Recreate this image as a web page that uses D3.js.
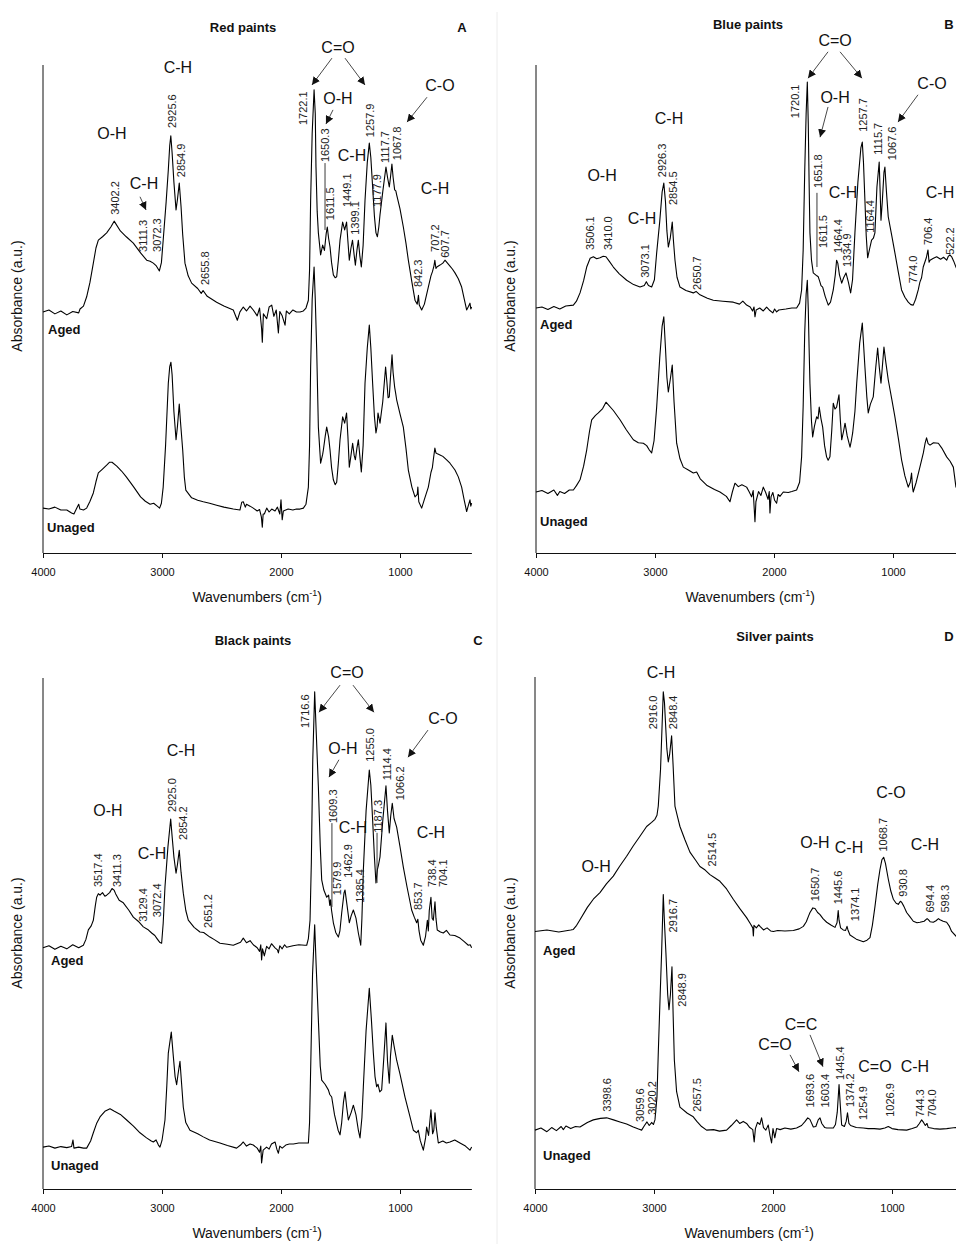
<!DOCTYPE html>
<html>
<head>
<meta charset="utf-8" />
<title>FTIR spectra of paints</title>
<script src="https://d3js.org/d3.v7.min.js"></script>
<style>
  body { margin: 0; background: #fff; font-family: Arial, "Liberation Sans", sans-serif; }
  .axis path, .axis line { stroke: #111; }
  .axis text { font-size: 11px; fill: #111; font-family: Arial, "Liberation Sans", sans-serif; }
  .spec { fill: none; stroke: #000; stroke-width: 1.1; stroke-linejoin: round; }
  .peak { font-size: 11px; fill: #222; }
  .grp { font-size: 16px; fill: #111; }
  .ttl { font-size: 13px; font-weight: bold; fill: #111; }
  .tag { font-size: 13px; font-weight: bold; fill: #111; }
  .lbl { font-size: 14px; fill: #111; }
</style>
</head>
<body>
<div id="chart"></div>
<script>
// x ticks (wavenumber, cm-1)
var wnTicks = [4000, 3000, 2000, 1000];

// ---- Red paints (A) ----
var redAged = [[4000,49.4],[3950,49.8],[3900,49.0],[3850,49.6],[3800,48.8],[3750,49.5],[3700,49.2],[3689,50.0],[3660,50.6],[3633,52.5],[3605,55.5],[3577,59.4],[3555,62.5],[3535,64.1],[3500,64.8],[3465,65.6],[3430,66.8],[3402,68.0],[3350,66.0],[3300,64.8],[3241,63.5],[3180,61.5],[3129,60.0],[3100,59.8],[3073,59.4],[3050,58.9],[3022,57.8],[3005,59.5],[2990,64.1],[2965,72.0],[2947,78.5],[2935,83.5],[2926,85.5],[2915,82],[2900,76],[2882,70.3],[2870,72.5],[2855,75.8],[2840,71],[2826,65.2],[2807,59.4],[2780,56.8],[2751,55.3],[2700,54.2],[2670,53.2],[2655,53.8],[2620,52.6],[2541,51.4],[2480,50.6],[2401,49.8],[2367,47.7],[2345,49.4],[2317,50.4],[2290,49.6],[2260,50.6],[2233,49.8],[2200,48.6],[2180,50.2],[2163,46.0],[2157,43.2],[2148,49.0],[2120,48.0],[2100,50.4],[2078,50.8],[2060,48.5],[2040,49.8],[2022,45.1],[2010,49.5],[1990,48.6],[1966,46.7],[1955,49.6],[1930,49.0],[1900,49.8],[1870,49.4],[1840,49.4],[1812,49.6],[1790,50.2],[1770,51.8],[1760,58],[1751,72.3],[1738,86],[1722,94.9],[1712,90],[1706,79.1],[1696,70],[1686,65.6],[1667,61.1],[1650,63.1],[1635,62.0],[1620,65.5],[1611,66.8],[1600,64.5],[1588,62.7],[1575,59.5],[1560,57.0],[1545,56.4],[1532,56.6],[1518,60],[1504,64.1],[1482,67.8],[1465,66.2],[1449,67.8],[1438,64],[1426,60.0],[1412,62.5],[1399,64.1],[1385,61],[1375,59.0],[1362,62],[1350,64.1],[1338,61],[1325,58.6],[1310,63],[1294,72.3],[1275,80],[1258,84.0],[1245,81],[1230,75.0],[1215,69],[1202,65.6],[1190,64.8],[1178,66.8],[1168,69.3],[1145,74],[1118,79.1],[1105,77],[1090,75.0],[1080,77],[1068,79.7],[1058,77],[1045,74.4],[1035,74.2],[1028,73.4],[1000,70.5],[972,66.8],[950,63.5],[930,60.0],[900,55.5],[874,51.8],[855,51.0],[845,52.8],[838,50.8],[818,49.8],[795,51.0],[762,54.5],[740,56.8],[728,57.6],[715,58.8],[707,60.0],[698,58.3],[690,58.6],[664,59.0],[640,59.4],[622,60.0],[608,59.6],[580,58.8],[560,58.2],[538,57.4],[510,56.2],[482,54.5],[460,52],[440,49.8],[425,50.5],[412,51.2],[405,50.0],[398,50.4]];
var redUnaged = [[4000,9.2],[3950,9.0],[3900,9.4],[3850,8.8],[3800,8.8],[3760,8.2],[3740,8.0],[3720,9.0],[3700,10.0],[3690,9.0],[3660,8.8],[3633,9.2],[3605,10.6],[3577,12.3],[3555,14.6],[3535,16.4],[3500,17.2],[3465,18.0],[3440,18.6],[3420,18.6],[3380,17.8],[3340,16.8],[3300,15.6],[3240,13.6],[3180,11.5],[3140,10.6],[3100,10.0],[3070,10.2],[3040,9.6],[3020,9.2],[3005,10.2],[2990,13.5],[2970,22],[2947,34.8],[2935,38.2],[2925,39.1],[2915,36.5],[2900,29],[2882,23.2],[2870,26],[2855,30.5],[2845,27],[2826,21.1],[2812,15.5],[2800,12.9],[2751,11.3],[2700,10.8],[2653,10.5],[2600,10.2],[2541,9.8],[2480,9.4],[2401,9.0],[2345,8.8],[2330,10.4],[2317,10.5],[2300,9.4],[2290,10.0],[2260,9.6],[2233,9.2],[2200,8.6],[2180,8.9],[2165,7.4],[2157,5.3],[2150,8.0],[2140,8.0],[2120,9.2],[2100,8.4],[2078,9.0],[2050,8.6],[2030,9.4],[2010,8.0],[2000,10.9],[1990,6.8],[1980,8.6],[1960,8.8],[1940,9.0],[1900,8.8],[1870,9.0],[1840,9.0],[1812,9.2],[1790,10.0],[1770,13.5],[1760,22],[1751,38.1],[1738,52],[1722,58.6],[1712,52],[1700,41.6],[1686,25.8],[1667,18.4],[1650,20.2],[1644,21.1],[1628,24],[1616,25.8],[1600,23.8],[1588,21.1],[1575,17.5],[1560,15.0],[1545,14.0],[1532,14.5],[1518,18.5],[1504,23.2],[1482,27.9],[1465,26.6],[1449,28.7],[1438,24],[1426,17.6],[1412,20],[1398,22.5],[1385,20],[1375,19.1],[1362,21.5],[1350,23.2],[1338,20],[1325,16.6],[1310,22],[1294,34.8],[1275,42],[1258,46.7],[1245,42],[1230,34.8],[1215,28],[1202,24.6],[1192,26],[1185,28.7],[1175,27.5],[1168,26.6],[1145,31],[1121,38.1],[1110,35],[1100,31.8],[1090,32.0],[1080,36],[1067,40.6],[1058,37],[1045,34.0],[1035,32.5],[1028,31.4],[1000,28.5],[972,25.8],[950,21.5],[930,17.0],[900,13.5],[874,11.5],[855,12.0],[850,13.5],[842,10.5],[818,9.2],[795,11.0],[762,13.5],[740,16.5],[728,17.5],[720,19.1],[707,21.5],[698,20.5],[690,20.4],[664,20.1],[640,19.8],[608,19.1],[580,18.4],[538,17.0],[510,15.6],[482,13.5],[460,10.8],[440,8.5],[425,9.8],[412,10.9],[405,9.6],[398,10.2]];
var redPeaks = [[3402.2,3395,69.3],[3111.3,3160,61.7],[3072.3,3042,61.7],[2925.6,2916,87.1],[2854.9,2840,77.0],[2655.8,2639,54.9],[1722.1,1815,87.7],[1650.3,1630,80.1],[1611.5,1588,68.2],[1449.1,1445,70.9],[1399.1,1378,65.2],[1257.9,1252,85.2],[1177.9,1193,70.9],[1117.7,1126,79.9],[1067.8,1025,80.5],[842.3,849,54.5],[707.2,706,61.7],[607.7,622,60.5]];
var redGroups = [["C=O",1521,103.7],["C-H",2866,99.6],["O-H",3420,86.1],["C-H",3151,75.8],["O-H",1521,93.2],["C-H",1403,81.6],["C-O",664,95.9],["C-H",706,74.8]];
var redArrows = [[1572,101.4,1740,95.9],[1462,101.4,1294,95.9],[3185,73.0,3134,70.3],[1563,90.8,1622,87.9],[773,93.4,941,88.3]];
var redLeaders = [[1630,79.9,66.2]];

// ---- Blue paints (B) ----
var blueAged = [[4000,50.2],[3950,50.4],[3900,49.9],[3850,50.5],[3800,50.0],[3750,50.6],[3686,50.8],[3660,51.6],[3630,53.3],[3600,55.8],[3574,58.6],[3545,60.4],[3518,60.7],[3490,60.3],[3462,60.5],[3435,60.8],[3412,60.7],[3385,59.8],[3350,58.6],[3300,57.2],[3238,55.9],[3180,55.0],[3126,54.5],[3090,54.8],[3073,55.6],[3055,54.8],[3028,54.5],[3005,56],[2986,61.5],[2960,68],[2940,74],[2926,75.8],[2912,72],[2900,66],[2888,62.7],[2872,64.5],[2855,67.8],[2845,64],[2832,60.0],[2815,56.5],[2790,54.5],[2740,53.8],[2678,53.3],[2655,53.6],[2622,52.9],[2560,52.2],[2510,51.8],[2430,51.6],[2342,51.4],[2290,51.0],[2262,51.6],[2230,50.8],[2200,50.4],[2180,49.6],[2168,50.4],[2160,48.4],[2150,49.8],[2120,50.2],[2090,49.6],[2062,50.4],[2040,49.8],[2010,49.2],[1995,50.0],[1978,49.4],[1960,49.8],[1900,50.0],[1850,50.2],[1810,50.2],[1785,51.2],[1768,53.9],[1755,62],[1742,78],[1730,90],[1720,96.5],[1712,88],[1705,76],[1698,65.6],[1685,60],[1670,57.4],[1650,57.0],[1640,56.8],[1628,56.6],[1615,55.6],[1605,54.8],[1591,54.5],[1570,52.6],[1544,50.8],[1525,51.4],[1502,53.9],[1485,57],[1474,60.0],[1464,59.4],[1450,57],[1431,55.3],[1415,56.4],[1395,57.4],[1375,55.5],[1356,53.3],[1340,56],[1320,65.6],[1295,76],[1270,83],[1258,84.2],[1248,80],[1236,72.3],[1225,65],[1213,60.5],[1195,62.5],[1180,64.1],[1165,64.5],[1152,65.6],[1135,75],[1116,80.1],[1108,74],[1101,68.2],[1090,72],[1076,78],[1068,79.1],[1055,74],[1040,68.9],[1010,65],[984,61.5],[955,57.5],[928,53.9],[900,52.4],[872,51.4],[850,50.9],[830,50.8],[810,52],[788,53.9],[774,55.5],[760,56.4],[746,58.6],[720,60.5],[706,62.1],[697,59.6],[689,60.0],[660,60.4],[633,60.7],[600,60.2],[575,60.6],[549,60.0],[535,60.8],[522,61.1],[507,60.7],[490,59.8],[471,58.6],[440,57.0],[400,53.9]];
var blueUnaged = [[4000,12.5],[3950,12.8],[3900,12.2],[3850,12.9],[3820,11.8],[3800,12.6],[3760,12.2],[3720,12.9],[3686,12.9],[3660,13.8],[3630,15.0],[3600,17.8],[3574,21.1],[3550,25],[3532,27.3],[3500,28.2],[3476,28.7],[3440,29.6],[3412,30.9],[3350,29.2],[3294,27.3],[3240,25.2],[3182,23.2],[3140,22.6],[3098,22.5],[3070,22.0],[3050,21.2],[3028,20.5],[3008,23],[2986,29.9],[2960,40],[2940,46.5],[2926,48.4],[2912,42],[2900,36],[2888,33.0],[2872,35.5],[2855,38.5],[2840,31],[2818,22.5],[2790,19.3],[2762,17.6],[2720,17.0],[2678,16.4],[2650,16.6],[2620,15.2],[2566,13.9],[2500,13.0],[2454,12.5],[2400,11.6],[2370,10.5],[2350,12.5],[2328,14.3],[2300,13.6],[2270,14.0],[2230,13.5],[2210,12.6],[2188,11.5],[2175,12.8],[2166,9.0],[2160,6.4],[2152,10.5],[2130,12.6],[2110,11.8],[2090,13.5],[2070,12.4],[2050,11.0],[2040,12.6],[2034,8.2],[2025,11.5],[2010,12.4],[1995,10.8],[1978,10.2],[1965,12.0],[1950,11.6],[1922,12.5],[1880,12.4],[1850,12.6],[1810,12.9],[1785,14.5],[1768,19.7],[1755,30],[1742,45],[1730,53],[1720,55.9],[1712,50],[1705,42],[1698,34.8],[1685,27],[1675,23.8],[1660,26],[1642,27.9],[1630,27.5],[1620,29.9],[1605,27.5],[1591,25.8],[1575,22],[1558,19.7],[1545,19.0],[1530,19.7],[1515,25],[1502,30.7],[1488,29.5],[1474,29.9],[1454,32.4],[1442,27],[1431,23.2],[1415,25],[1403,26.6],[1385,24],[1361,21.7],[1350,23],[1339,24.6],[1320,29],[1305,34.8],[1280,43],[1258,47.1],[1248,43],[1236,38.1],[1220,32],[1208,28.7],[1190,30.5],[1166,32.0],[1145,38],[1129,42.0],[1115,38],[1101,34.8],[1090,38],[1076,42.2],[1060,39],[1040,35.5],[1010,31.5],[984,27.9],[955,23.5],[928,19.1],[900,15.8],[872,13.5],[855,14.5],[844,16.4],[836,13.5],[830,12.5],[805,14.5],[774,17.6],[745,20.5],[730,22.5],[718,23.6],[705,22.4],[689,22.1],[660,22.6],[619,22.5],[590,21.5],[549,19.7],[520,18.8],[493,17.6],[471,13.5],[430,12.9],[400,11.0]];
var bluePeaks = [[3506.1,3546,62.1],[3410.0,3395,62.1],[3073.1,3084,56.4],[2926.3,2941,77.0],[2854.5,2849,71.3],[2650.7,2647,53.9],[1720.1,1824,89.1],[1651.8,1630,74.8],[1611.5,1588,62.5],[1464.4,1462,61.5],[1334.9,1387,58.6],[1257.7,1252,86.3],[1164.4,1193,65.6],[1115.7,1126,81.6],[1067.6,1009,80.5],[774.0,832,55.3],[706.4,706,63.1],[522.2,521,61.1]];
var blueGroups = [["C=O",1487,105.1],["O-H",1487,93.4],["C-O",672,96.3],["C-H",2882,89.1],["O-H",3445,77.5],["C-H",3109,68.6],["C-H",1420,74.0],["C-H",605,74.0]];
var blueArrows = [[1546,102.7,1714,97.3],[1445,102.7,1261,97.3],[1546,91.4,1613,85.2],[790,93.9,958,88.3]];
var blueLeaders = [[1639,73.8,58.6]];

// ---- Black paints (C) ----
var blackAged = [[4000,47.2],[3950,47.6],[3900,46.9],[3850,47.5],[3800,47.0],[3750,47.8],[3700,47.2],[3661,47.7],[3640,48.8],[3619,50.7],[3595,51.5],[3577,52.6],[3560,55.5],[3549,57.1],[3535,57.8],[3521,57.5],[3500,58.0],[3480,57.3],[3465,57.5],[3440,58.0],[3420,58.8],[3403,58.5],[3390,57.8],[3360,56.5],[3325,56.0],[3280,54.6],[3241,53.2],[3200,52.4],[3157,51.3],[3120,50.8],[3087,50.1],[3060,49.6],[3045,49.1],[3020,48.3],[3003,48.1],[2990,52],[2975,59.1],[2950,67],[2927,72.4],[2915,69],[2900,65],[2882,61.8],[2870,63.5],[2855,66.3],[2840,62],[2821,57.9],[2800,54.5],[2779,52.6],[2730,51.2],[2681,50.3],[2650,50.2],[2597,49.3],[2560,48.8],[2513,48.1],[2450,47.9],[2401,47.7],[2340,48.3],[2317,49.1],[2290,48.2],[2260,48.6],[2233,47.8],[2200,47.2],[2180,46.5],[2170,47.8],[2163,44.8],[2155,47.0],[2140,45.6],[2121,47.5],[2100,47.0],[2080,48.0],[2050,47.2],[2030,46.8],[2022,46.2],[2010,47.6],[1990,47.0],[1970,47.8],[1952,47.3],[1900,47.6],[1850,47.8],[1800,47.7],[1784,47.7],[1770,49.0],[1756,52.6],[1745,64],[1733,84],[1717,97.3],[1705,90],[1686,78.7],[1670,67],[1658,60.5],[1640,58.5],[1616,57.1],[1600,57.5],[1590,55.5],[1584,56.6],[1575,54.5],[1560,52.1],[1540,50.2],[1518,49.3],[1505,50.5],[1490,54.0],[1470,58.0],[1462,58.5],[1445,55.5],[1426,52.1],[1410,53.5],[1392,54.6],[1370,53.0],[1350,50.1],[1330,47.7],[1320,53],[1308,62.4],[1285,74],[1258,82.0],[1245,79],[1230,72.2],[1215,65],[1202,59.9],[1190,62.5],[1180,63.5],[1168,65.0],[1145,72],[1118,78.9],[1105,74],[1090,69.7],[1078,73],[1065,75.5],[1050,72.5],[1028,70.8],[1000,67],[972,63.0],[940,59],[902,54.6],[880,53.2],[860,52.1],[850,52.8],[840,50.5],[826,48.7],[804,47.7],[785,49.5],[770,52.6],[762,50.5],[754,54.5],[740,57.1],[730,53],[720,52.6],[706,56.2],[698,53],[687,50.7],[660,50.3],[636,50.1],[610,50.6],[580,49.7],[540,49.6],[496,49.1],[460,48.4],[426,47.7],[410,47.8],[398,47.2]];
var blackUnaged = [[4000,8.2],[3950,8.4],[3900,8.0],[3850,8.3],[3800,8.1],[3760,8.3],[3748,9.6],[3740,8.0],[3700,8.2],[3660,8.0],[3633,8.0],[3600,9.4],[3577,11.0],[3550,12.8],[3521,14.1],[3480,15.2],[3437,15.7],[3400,15.2],[3350,14.6],[3297,13.5],[3240,12.3],[3185,11.0],[3130,10.0],[3090,9.4],[3073,9.2],[3050,9.6],[3030,8.6],[3017,8.2],[3000,9.5],[2975,13.5],[2960,20],[2947,26.6],[2922,30.7],[2905,26],[2890,22],[2877,20.4],[2865,22.5],[2849,25.0],[2835,20.5],[2821,16.0],[2800,13.0],[2765,11.5],[2700,10.8],[2653,10.2],[2600,9.6],[2513,9.0],[2450,8.5],[2373,8.0],[2340,8.6],[2317,9.2],[2290,8.4],[2260,8.8],[2233,8.6],[2200,8.0],[2180,7.2],[2170,8.4],[2163,5.1],[2150,7.6],[2121,8.2],[2100,7.8],[2080,8.8],[2050,9.2],[2035,7.8],[2022,7.0],[2010,8.4],[1990,8.0],[1960,8.6],[1930,8.8],[1896,8.8],[1850,9.0],[1800,9.0],[1770,9.0],[1760,13],[1748,26.6],[1735,42],[1717,51.7],[1705,44],[1686,33.1],[1670,24],[1658,21.3],[1630,20.5],[1602,19.4],[1590,18.5],[1574,18.0],[1550,14.5],[1520,11.5],[1504,10.6],[1490,13],[1475,17],[1462,19.0],[1448,16],[1434,13.5],[1410,15],[1392,16.4],[1370,14.5],[1350,11.5],[1336,10.0],[1320,14],[1308,20.0],[1285,31],[1258,39.3],[1240,33],[1224,26.6],[1210,22],[1196,20.0],[1185,20.5],[1170,19.0],[1154,19.4],[1135,26],[1118,32.5],[1105,25],[1090,20.7],[1080,26],[1065,30.1],[1050,28],[1028,25.2],[1000,22.5],[958,18.0],[920,14.5],[888,11.5],[860,11.0],[846,11.5],[830,9.5],[804,7.6],[785,10],[776,12.1],[760,10.5],[750,13],[740,15.5],[726,10.8],[716,11.5],[706,14.9],[695,12],[678,9.0],[640,9.4],[610,9.0],[580,9.2],[540,9.6],[496,9.0],[450,8.4],[412,7.6],[398,8.2]];
var blackPeaks = [[3517.4,3538,59.1],[3411.3,3378,59.1],[3129.4,3160,52.3],[3072.4,3042,53.2],[2925.0,2916,73.8],[2854.2,2824,68.3],[2651.2,2614,51.1],[1716.6,1798,90.2],[1609.3,1563,71.6],[1579.9,1530,57.5],[1462.9,1437,60.9],[1385.4,1336,56.0],[1255.0,1252,83.6],[1187.3,1185,69.7],[1114.4,1109,80.0],[1066.2,1000,76.1],[853.7,849,54.6],[738.4,731,59.1],[704.1,639,59.1]];
var blackGroups = [["C=O",1445,101.2],["C-O",639,92.2],["O-H",1479,86.3],["C-H",2840,85.9],["O-H",3454,74.2],["C-H",3084,65.8],["C-H",1395,70.8],["C-H",740,69.9]];
var blackArrows = [[1504,98.6,1681,93.3],[1395,98.6,1219,93.3],[765,89.8,933,84.5],[1513,84.0,1597,80.6]];
var blackLeaders = [[1572,71.6,55.2],[1193,69.7,59.9]];

// ---- Silver paints (D) ----
var silverAged = [[4000,50.3],[3900,50.6],[3800,50.2],[3700,50.6],[3678,50.7],[3650,51.5],[3622,52.6],[3560,55.0],[3510,56.6],[3454,57.9],[3400,59.6],[3342,61.1],[3290,63.0],[3230,65.0],[3175,67.0],[3118,68.9],[3062,70.8],[3020,71.6],[2992,72.2],[2975,73.0],[2964,74.8],[2945,82],[2936,87.9],[2922,97.1],[2912,95],[2905,91.8],[2892,86],[2880,83.4],[2868,85],[2852,88.5],[2840,83],[2824,74.8],[2800,72.5],[2782,70.8],[2740,68.2],[2698,65.8],[2650,64.2],[2614,63.0],[2570,62.3],[2530,61.4],[2490,60.8],[2446,60.1],[2390,58.6],[2334,56.6],[2280,54.8],[2222,53.0],[2190,51.8],[2170,51.0],[2165,49.4],[2160,51.5],[2140,51.0],[2120,51.6],[2109,51.3],[2080,50.6],[2050,51.0],[2020,50.4],[1997,50.3],[1960,50.5],[1900,50.4],[1829,50.5],[1780,50.8],[1745,51.3],[1720,52.2],[1700,53.4],[1689,54.0],[1665,54.9],[1647,54.8],[1625,54.0],[1605,53.6],[1580,52.8],[1549,52.1],[1510,51.5],[1479,51.1],[1462,52],[1452,54.4],[1445,52.5],[1432,51.0],[1410,50.6],[1390,50.5],[1378,51.3],[1370,50.6],[1353,49.6],[1300,48.8],[1241,48.3],[1210,48.6],[1185,49.1],[1165,51.5],[1143,55.2],[1120,59.5],[1101,62.4],[1085,64.3],[1070,64.8],[1055,63.6],[1031,60.5],[1010,58.2],[989,56.6],[965,55.8],[947,55.6],[930,56.2],[919,56.0],[900,55.2],[877,54.0],[850,53.2],[821,52.3],[790,52.0],[765,52.1],[730,52.3],[705,52.8],[695,52.6],[680,52.2],[653,52.1],[630,52.4],[610,52.8],[597,52.6],[570,52.3],[541,52.1],[520,51.4],[499,50.3],[463,49.4],[430,48.7],[400,47.7]];
var silverUnaged = [[4000,11.5],[3950,11.9],[3900,11.2],[3860,12.0],[3820,11.4],[3780,12.2],[3762,11.6],[3740,12.3],[3700,11.8],[3660,12.2],[3622,12.1],[3560,13.0],[3510,13.5],[3450,13.8],[3398,13.9],[3340,13.5],[3286,13.1],[3230,12.7],[3174,12.1],[3130,11.7],[3104,11.5],[3080,12.4],[3059,13.1],[3040,12.4],[3025,12.8],[3020,13.0],[3005,12.6],[2992,13.5],[2975,18],[2964,26.6],[2948,38],[2936,46.2],[2922,57.5],[2912,52],[2900,46.2],[2885,38],[2874,35.0],[2862,38],[2849,43.4],[2838,33],[2829,25.2],[2810,19],[2782,16.0],[2720,14.8],[2670,14.1],[2640,13.2],[2600,12.2],[2558,11.5],[2500,11.6],[2450,11.3],[2390,11.5],[2350,12.4],[2306,13.5],[2280,12.8],[2250,13.2],[2222,12.8],[2195,12.0],[2170,11.6],[2158,9.2],[2148,11.8],[2130,13.0],[2110,12.6],[2096,13.9],[2080,12.0],[2060,11.5],[2040,12.5],[2025,10.4],[2012,9.0],[2000,11.8],[1985,10.0],[1970,11.8],[1940,11.6],[1900,11.9],[1850,11.7],[1802,11.9],[1760,12.4],[1730,13.2],[1708,13.9],[1690,13.6],[1661,12.1],[1640,12.2],[1620,13.5],[1605,13.9],[1590,12.8],[1565,12.0],[1549,11.9],[1510,11.9],[1493,11.9],[1475,12.6],[1460,15],[1445,20.4],[1435,16.5],[1423,12.5],[1400,12.2],[1385,13.2],[1374,14.9],[1362,12.8],[1348,12.4],[1300,12.0],[1241,11.9],[1200,11.8],[1150,11.8],[1101,11.7],[1060,11.9],[1031,12.2],[1000,11.8],[950,11.6],[877,11.5],[830,11.8],[793,12.1],[770,12.8],[751,13.5],[735,13.0],[720,12.4],[706,12.8],[695,12.0],[650,11.8],[597,11.7],[540,11.8],[500,11.9],[463,12.0],[430,11.9],[400,11.9]];
var silverPeaks = [[2916.0,3008,89.8],[2848.4,2840,89.8],[2514.5,2513,63.0],[1650.7,1647,56.2],[1445.6,1454,55.6],[1374.1,1311,52.3],[1068.7,1076,65.9],[930.8,908,57.1],[694.4,681,54.0],[598.3,555,54.0],[2916.7,2840,50.1],[2848.9,2765,35.6],[3398.6,3395,15.1],[3059.6,3118,13.1],[3020.2,3017,14.5],[2657.5,2639,15.1],[1693.6,1689,15.9],[1603.4,1563,15.9],[1445.4,1437,21.3],[1374.2,1353,16.0],[1254.9,1244,13.5],[1026.9,1017,14.1],[744.3,765,14.1],[704.0,664,14.1]];
var silverGroups = [["C-H",2941,101.0],["O-H",3487,63.0],["C-O",1009,77.5],["O-H",1647,67.7],["C-H",1361,66.7],["C-H",723,67.3],["C=C",1765,32.1],["C=O",1983,28.2],["C=O",1143,23.9],["C-H",807,23.9]];
var silverArrows = [[1857,26.2,1782,22.9],[1689,30.1,1580,23.9]];
var silverLeaders = [];

// panel layout (pixels)
var panels = [
  {title:"Red paints", letter:"A", aged:redAged, unaged:redUnaged, peaks:redPeaks, groups:redGroups, arrows:redArrows, leaders:redLeaders,
   left:43, top:65, bottom:553, titleX:243, titleY:32, letterX:462, agedXY:[48,334], unagedXY:[47,532], yTitleX:22, yTitleY:296},
  {title:"Blue paints", letter:"B", aged:blueAged, unaged:blueUnaged, peaks:bluePeaks, groups:blueGroups, arrows:blueArrows, leaders:blueLeaders,
   left:536, top:65, bottom:553, titleX:748, titleY:29, letterX:949, agedXY:[540,329], unagedXY:[540,526], yTitleX:515, yTitleY:296},
  {title:"Black paints", letter:"C", aged:blackAged, unaged:blackUnaged, peaks:blackPeaks, groups:blackGroups, arrows:blackArrows, leaders:blackLeaders,
   left:43, top:678, bottom:1189, titleX:253, titleY:645, letterX:478, agedXY:[51,965], unagedXY:[51,1170], yTitleX:22, yTitleY:933},
  {title:"Silver paints", letter:"D", aged:silverAged, unaged:silverUnaged, peaks:silverPeaks, groups:silverGroups, arrows:silverArrows, leaders:silverLeaders,
   left:535, top:677, bottom:1189, titleX:775, titleY:641, letterX:949, agedXY:[543,955], unagedXY:[543,1160], yTitleX:515, yTitleY:933}
];

var W = 956, H = 1244;
var pxPerWn = 0.119;

var svg = d3.select("#chart").append("svg")
    .attr("width", W).attr("height", H)
    .style("background", "#fff");

svg.append("defs").append("marker")
    .attr("id", "arr")
    .attr("viewBox", "0 0 10 10")
    .attr("refX", 10).attr("refY", 5)
    .attr("markerWidth", 8).attr("markerHeight", 8)
    .attr("markerUnits", "userSpaceOnUse")
    .attr("orient", "auto")
  .append("path")
    .attr("d", "M0,0L10,5L0,10z")
    .attr("fill", "#111");

// faint frame edge of the right-hand panels
svg.append("line")
    .attr("x1", 497).attr("x2", 497).attr("y1", 12).attr("y2", H)
    .attr("stroke", "#ececec").attr("stroke-width", 1);

var fmt = d3.format(".1f");

panels.forEach(function (p) {
    var x = d3.scaleLinear().domain([4000, 400]).range([p.left, p.left + 3600 * pxPerWn]);
    var y = d3.scaleLinear().domain([0, 100]).range([p.bottom, p.top]);
    var g = svg.append("g");

    // y axis: plain line, no ticks
    g.append("line")
        .attr("x1", p.left).attr("x2", p.left)
        .attr("y1", p.top).attr("y2", p.bottom)
        .attr("stroke", "#111").attr("stroke-width", 1);

    var xAxis = d3.axisBottom(x)
        .tickValues(wnTicks)
        .tickSize(5)
        .tickSizeOuter(0)
        .tickPadding(10)
        .tickFormat(d3.format("d"));

    g.append("g")
        .attr("class", "axis")
        .attr("transform", "translate(0," + p.bottom + ")")
        .call(xAxis);

    var line = d3.line()
        .x(function (d) { return x(d[0]); })
        .y(function (d) { return y(d[1]); });

    g.append("path").attr("class", "spec").attr("d", line(p.aged));
    g.append("path").attr("class", "spec").attr("d", line(p.unaged));

    // titles
    g.append("text").attr("class", "ttl")
        .attr("x", p.titleX).attr("y", p.titleY)
        .attr("text-anchor", "middle").text(p.title);
    g.append("text").attr("class", "ttl")
        .attr("x", p.letterX).attr("y", p.titleY)
        .attr("text-anchor", "middle").text(p.letter);

    g.append("text").attr("class", "tag")
        .attr("x", p.agedXY[0]).attr("y", p.agedXY[1]).text("Aged");
    g.append("text").attr("class", "tag")
        .attr("x", p.unagedXY[0]).attr("y", p.unagedXY[1]).text("Unaged");

    // axis titles
    var xt = g.append("text").attr("class", "lbl")
        .attr("x", (x.range()[0] + x.range()[1]) / 2)
        .attr("y", p.bottom + 49)
        .attr("text-anchor", "middle");
    xt.append("tspan").text("Wavenumbers (cm");
    xt.append("tspan").attr("font-size", "9px").attr("dy", "-6").text("-1");
    xt.append("tspan").attr("dy", "6").text(")");

    g.append("text").attr("class", "lbl")
        .attr("transform", "translate(" + p.yTitleX + "," + p.yTitleY + ") rotate(-90)")
        .attr("text-anchor", "middle")
        .text("Absorbance (a.u.)");

    // leader lines
    g.selectAll(".leader").data(p.leaders).enter().append("line")
        .attr("x1", function (d) { return x(d[0]); })
        .attr("x2", function (d) { return x(d[0]); })
        .attr("y1", function (d) { return y(d[1]); })
        .attr("y2", function (d) { return y(d[2]); })
        .attr("stroke", "#222").attr("stroke-width", 0.9);

    // peak labels, rotated
    g.selectAll(".peak").data(p.peaks).enter().append("text")
        .attr("class", "peak")
        .attr("transform", function (d) { return "translate(" + x(d[1]) + "," + y(d[2]) + ") rotate(-90)"; })
        .attr("dy", "0.36em")
        .text(function (d) { return fmt(d[0]); });

    // band group labels
    g.selectAll(".grp").data(p.groups).enter().append("text")
        .attr("class", "grp")
        .attr("x", function (d) { return x(d[1]); })
        .attr("y", function (d) { return y(d[2]); })
        .attr("dy", "0.36em")
        .attr("text-anchor", "middle")
        .text(function (d) { return d[0]; });

    // arrows
    g.selectAll(".arrow").data(p.arrows).enter().append("line")
        .attr("x1", function (d) { return x(d[0]); })
        .attr("y1", function (d) { return y(d[1]); })
        .attr("x2", function (d) { return x(d[2]); })
        .attr("y2", function (d) { return y(d[3]); })
        .attr("stroke", "#333").attr("stroke-width", 0.9)
        .attr("marker-end", "url(#arr)");
});
</script>
</body>
</html>
